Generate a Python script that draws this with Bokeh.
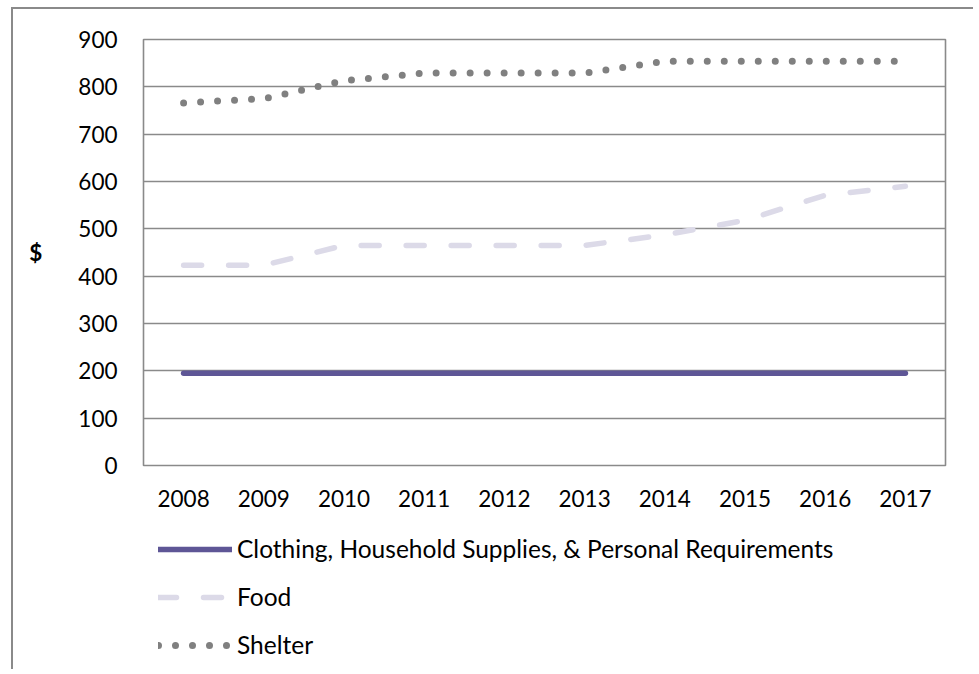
from bokeh.plotting import figure
from bokeh.layouts import column
from bokeh.models import Legend, LegendItem, FixedTicker, Range1d, FactorRange
from bokeh.embed import file_html
from bokeh.resources import INLINE

years = ["2008", "2009", "2010", "2011", "2012", "2013", "2014", "2015", "2016", "2017"]
clothing = [195, 195, 195, 195, 195, 195, 195, 195, 195, 195]
food = [423, 423, 465, 465, 465, 465, 487, 518, 571, 590]
shelter = [766, 775, 813, 829, 829, 829, 854, 854, 854, 854]
y_ticks = [0, 100, 200, 300, 400, 500, 600, 700, 800, 900]
series_names = ["Clothing, Household Supplies, & Personal Requirements", "Food", "Shelter"]

FONT = "Lato"
FS = "22.5px"
LFS = "24.5px"
GRID = "#8a8a8a"

styles = [
    dict(line_color="#5E5696", line_width=5.5, line_cap="round", line_join="round"),
    dict(line_color="#DCDAE8", line_width=5.5, line_cap="round", line_join="round", line_dash="18 27"),
    dict(line_color="#808080", line_width=7, line_cap="round", line_join="round", line_dash="0 17"),
]

p = figure(
    x_range=FactorRange(*years), y_range=Range1d(0, 900),
    width=960, height=506, output_backend="svg", toolbar_location=None,
    min_border_left=130, min_border_top=30, min_border_right=28, min_border_bottom=50,
)
p.outline_line_color = GRID
p.outline_line_width = 1.6
p.xgrid.grid_line_color = None
p.ygrid.grid_line_color = GRID
p.ygrid.grid_line_width = 1.5
p.yaxis.ticker = FixedTicker(ticks=y_ticks)

for ax in (p.xaxis[0], p.yaxis[0]):
    ax.axis_line_color = None
    ax.major_tick_line_color = None
    ax.minor_tick_line_color = None
    ax.major_label_text_font = FONT
    ax.major_label_text_font_size = FS
    ax.major_label_text_color = "#000000"

p.yaxis.major_label_standoff = 20
p.xaxis.major_label_standoff = 18
p.yaxis.axis_label = "$"
p.yaxis.axis_label_orientation = "horizontal"
p.yaxis.axis_label_text_font = FONT
p.yaxis.axis_label_text_font_size = FS
p.yaxis.axis_label_text_font_style = "bold"
p.yaxis.axis_label_text_color = "#000000"
p.yaxis.axis_label_standoff = 33

for vals, st in zip([clothing, food, shelter], styles):
    p.line(years, vals, **st)

# legend panel below the chart (its renderers lie outside its visible range)
q = figure(
    x_range=FactorRange(*years), y_range=Range1d(-2000, -1000),
    width=960, height=154, output_backend="svg", toolbar_location=None,
    x_axis_location=None, y_axis_location=None,
    min_border_left=130, min_border_top=4, min_border_right=28, min_border_bottom=0,
)
q.outline_line_color = None
q.xgrid.grid_line_color = None
q.ygrid.grid_line_color = None

items = []
for name, vals, st in zip(series_names, [clothing, food, shelter], styles):
    r = q.line(years, vals, **st)
    items.append(LegendItem(label=name, renderers=[r]))

legend = Legend(
    items=items, location="top_left", orientation="vertical",
    glyph_width=74, glyph_height=20, label_height=20, label_standoff=5,
    spacing=19, padding=0, margin=15,
    border_line_color=None, background_fill_alpha=0,
    label_text_font=FONT, label_text_font_size=LFS, label_text_color="#000000",
)
q.add_layout(legend, "center")

layout = column(p, q, spacing=0)
layout.margin = (7, 0, 0, 11)
layout.styles = {"border-left": "2px solid #8a8a8a", "border-top": "2px solid #8a8a8a"}

open("out.html", "w").write(file_html(layout, INLINE))
